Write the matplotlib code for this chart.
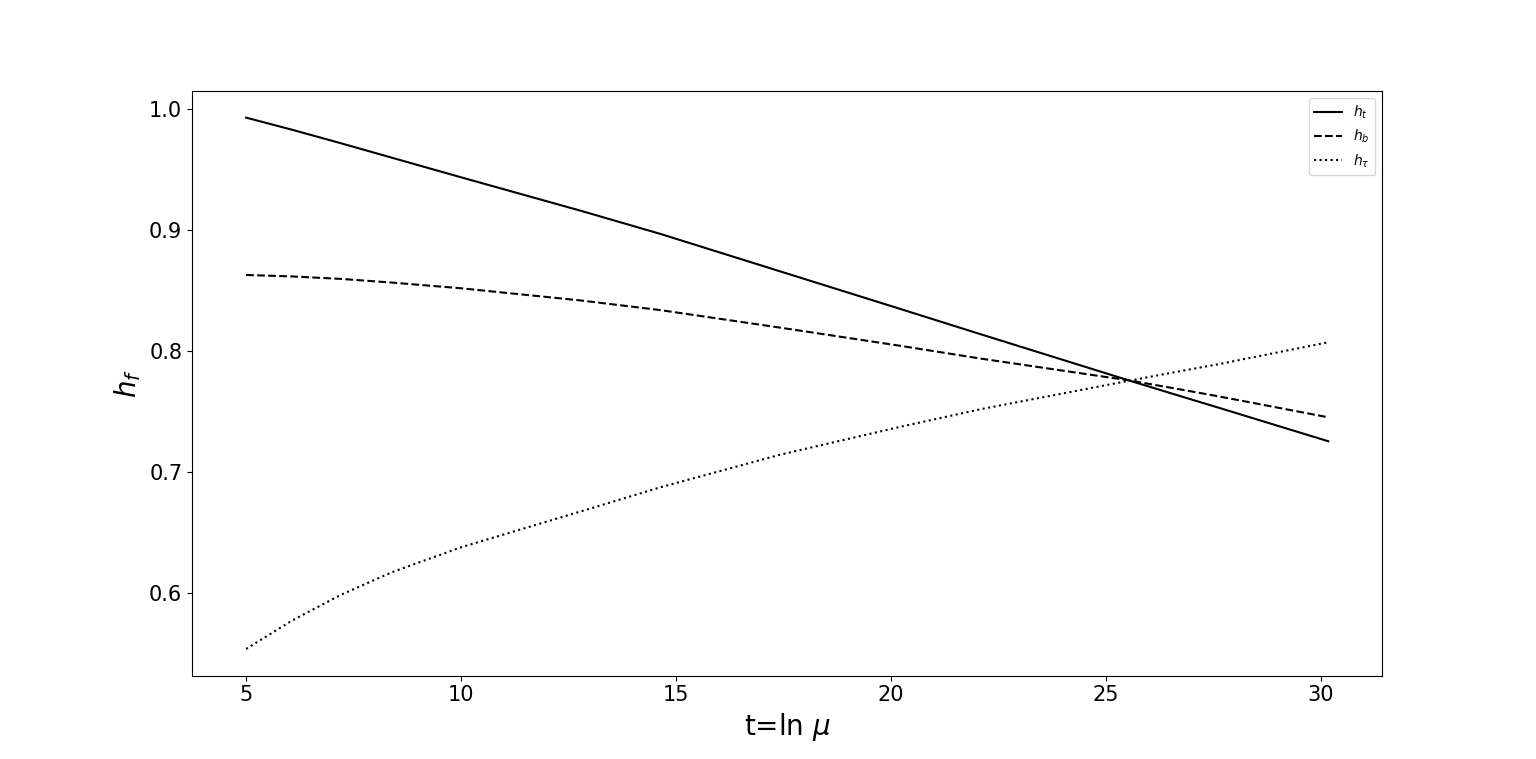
import matplotlib
matplotlib.use("Agg")
import matplotlib.pyplot as plt

t = [5.0, 6.07, 7.19, 8.4, 10.0, 12.77, 14.63, 17.42, 20.21, 22.07, 25.52, 26.72, 27.65, 30.17]
h_t = [0.993, 0.983, 0.972, 0.9598, 0.9437, 0.9162, 0.897, 0.866, 0.835, 0.8142, 0.776, 0.763, 0.753, 0.7256]
h_b = [0.863, 0.8618, 0.8598, 0.8567, 0.852, 0.842, 0.834, 0.8195, 0.8045, 0.794, 0.776, 0.7685, 0.7625, 0.7454]
h_tau = [0.554, 0.5775, 0.5985, 0.6175, 0.638, 0.6675, 0.6875, 0.7145, 0.7375, 0.752, 0.7755, 0.7835, 0.7895, 0.8074]

fig, ax = plt.subplots(figsize=(15.36, 7.59), dpi=100)
ax.plot(t, h_t, color="black", linestyle="-", label=r"$h_t$")
ax.plot(t, h_b, color="black", linestyle="--", label=r"$h_b$")
ax.plot(t, h_tau, color="black", linestyle=":", label=r"$h_\tau$")

ax.set_xlabel(r"t=ln $\mu$", fontsize=20)
ax.set_ylabel(r"$h_f$", fontsize=20)
ax.tick_params(axis="both", labelsize=15)
ax.legend(loc="upper right")

fig.savefig("out.png", dpi=100)
